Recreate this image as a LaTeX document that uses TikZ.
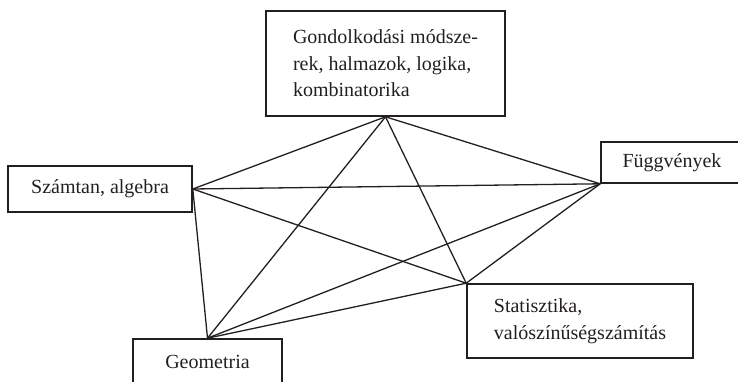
\documentclass[tikz,border=0pt]{standalone}
\usepackage{fontspec}
\setmainfont{Liberation Serif}
\usepackage{xcolor}
\usepackage{tikz}
\definecolor{ink}{HTML}{231F20}
\tikzset{box/.style={rectangle,draw=ink,line width=1.6pt,align=left,inner sep=0pt,font=\fontsize{20}{26.5}\selectfont,text=ink}}

\begin{document}
\begin{tikzpicture}[x=1pt,y=-1pt]
    \useasboundingbox (0,0) rectangle (738,382);
    \node[box,minimum width=239,minimum height=105] (gond) at (385.5,63.5) {Gondolkodási módsze-\\rek, halmazok, logika,\\kombinatorika};
    \node[box,minimum width=184,minimum height=46] (szam) at (100,189) {Számtan, algebra};
    \node[box,minimum width=142,minimum height=41] (fugg) at (672,162.5) {Függvények};
    \node[box,minimum width=226,minimum height=74] (stat) at (580,321) {Statisztika,\\valószínűségszámítás};
    \node[box,minimum width=149,minimum height=45] (geo) at (207.5,361.5) {Geometria};

    \draw [ink,line width=1.3pt] (gond.south) -- (szam.east);
    \draw [ink,line width=1.3pt] (gond.south) -- (fugg.south west);
    \draw [ink,line width=1.3pt] (gond.south) -- (stat.north west);
    \draw [ink,line width=1.3pt] (gond.south) -- (geo.north);
    \draw [ink,line width=1.3pt] (szam.east) -- (fugg.south west);
    \draw [ink,line width=1.3pt] (szam.east) -- (stat.north west);
    \draw [ink,line width=1.3pt] (szam.east) -- (geo.north);
    \draw [ink,line width=1.3pt] (fugg.south west) -- (stat.north west);
    \draw [ink,line width=1.3pt] (fugg.south west) -- (geo.north);
    \draw [ink,line width=1.3pt] (stat.north west) -- (geo.north);
\end{tikzpicture}
\end{document}
